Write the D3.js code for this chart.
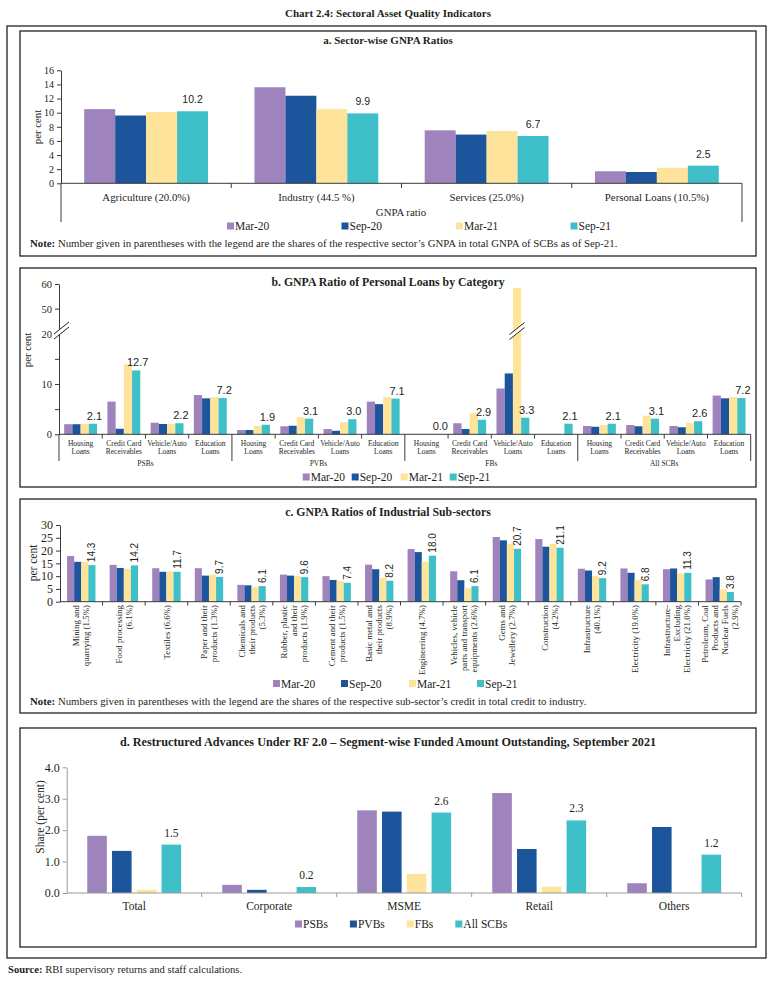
<!DOCTYPE html>
<html>
<head>
<meta charset="utf-8">
<script src="https://cdn.jsdelivr.net/npm/d3@7"></script>
<style>
  body { margin: 0; background: #fff; }
  text { font-family: "Liberation Serif", "DejaVu Serif", serif; fill: #231f20; }
  .num { font-family: "Liberation Sans", Arial, sans-serif; }
  .bold { font-weight: bold; }
</style>
</head>
<body>
<svg id="chart" width="775" height="985"></svg>
<script>
// ---- shared ----
var periods = ['Mar-20', 'Sep-20', 'Mar-21', 'Sep-21'];
var colors = ['#9e83bd', '#1d559d', '#fde49a', '#3fc0c8'];

// ---- a. sector-wise GNPA ----
var sectors = ['Agriculture (20.0%)', 'Industry (44.5 %)', 'Services (25.0%)', 'Personal Loans (10.5%)'];
var sectorMar20 = [10.5, 13.6, 7.5, 1.7];
var sectorSep20 = [9.6, 12.4, 6.9, 1.6];
var sectorMar21 = [10.1, 10.5, 7.4, 2.2];
var sectorSep21 = [10.2, 9.9, 6.7, 2.5];

// ---- b. personal loans by category ----
var bankGroups = ['PSBs', 'PVBs', 'FBs', 'All SCBs'];
var loanTypes = [['Housing', 'Loans'], ['Credit Card', 'Receivables'], ['Vehicle/Auto', 'Loans'], ['Education', 'Loans']];
var loanMar20 = [2.0, 6.5, 2.3, 7.8,  0.85, 1.6, 1.05, 6.5,  0, 2.2, 9.1, 0,   1.65, 1.85, 1.65, 7.7];
var loanSep20 = [2.0, 1.1, 2.05, 7.15, 0.85, 1.7, 0.7, 6.0,  0, 1.05, 12.1, 0, 1.5, 1.6, 1.4, 7.15];
var loanMar21 = [2.1, 13.9, 2.1, 7.4, 1.65, 3.4, 2.4, 7.4,  0, 4.2, 58.4, 0,   1.85, 3.7, 2.25, 7.4];
var loanSep21 = [2.1, 12.7, 2.2, 7.2, 1.9, 3.1, 3.0, 7.1,   0.0, 2.9, 3.3, 2.1, 2.1, 3.1, 2.6, 7.2];

// ---- c. industrial sub-sectors ----
var subSectors = [
  ['Mining and', 'quarrying (1.5%)'],
  ['Food processing', '(6.1%)'],
  ['Textiles (6.6%)'],
  ['Paper and their', 'products (1.3%)'],
  ['Chemicals and', 'their products', '(5.3%)'],
  ['Rubber, plastic', 'and their', 'products (1.9%)'],
  ['Cement  and their', 'products (1.5%)'],
  ['Basic metal and', 'their products', '(8.9%)'],
  ['Engineering (4.7%)'],
  ['Vehicles, vehicle', 'parts and transport', 'equipments (2.6%)'],
  ['Gems and', 'Jewellery (2.7%)'],
  ['Construction', '(4.2%)'],
  ['Infrastructure', '(40.1%)'],
  ['Electricity (19.0%)'],
  ['Infrastructure-', 'Excluding', 'Electricity (21.0%)'],
  ['Petroleum, Coal', 'Products and', 'Nuclear Fuels', '(2.9%)']
];
var subMar20 = [17.9, 14.4, 13.1, 13.1, 6.6, 10.6, 10.0, 14.5, 20.6, 11.9, 25.3, 24.5, 12.9, 13.0, 12.7, 8.7];
var subSep20 = [15.6, 13.2, 11.7, 10.2, 6.4, 10.2, 8.5, 12.7, 19.4, 8.4, 24.0, 21.5, 12.2, 11.3, 13.0, 9.6];
var subMar21 = [15.6, 12.9, 11.8, 10.6, 5.7, 10.0, 8.1, 9.4, 15.7, 5.3, 22.6, 22.6, 10.0, 8.6, 11.0, 4.8];
var subSep21 = [14.3, 14.2, 11.7, 9.7, 6.1, 9.6, 7.4, 8.2, 18.0, 6.1, 20.7, 21.1, 9.2, 6.8, 11.3, 3.8];

// ---- d. restructured advances ----
var segments = ['Total', 'Corporate', 'MSME', 'Retail', 'Others'];
var bankTypes = ['PSBs', 'PVBs', 'FBs', 'All SCBs'];
var rfPSBs = [1.82, 0.26, 2.63, 3.18, 0.31];
var rfPVBs = [1.34, 0.10, 2.59, 1.40, 2.10];
var rfFBs = [0.10, 0.0, 0.61, 0.20, 0.0];
var rfAll = [1.54, 0.19, 2.56, 2.31, 1.22];

var svg = d3.select('#chart');
var ink = '#3a3a3a';

function box(x, y, w, h) {
  svg.append('rect').attr('x', x).attr('y', y).attr('width', w).attr('height', h)
    .attr('fill', 'none').attr('stroke', '#222').attr('stroke-width', 1.3);
}
function heading(txt, y, size) {
  svg.append('text').attr('class', 'bold').attr('x', 388).attr('y', y)
    .attr('text-anchor', 'middle').style('font-size', size + 'px').text(txt);
}
function line(g, x1, y1, x2, y2, col) {
  g.append('line').attr('x1', x1).attr('y1', y1).attr('x2', x2).attr('y2', y2)
    .attr('stroke', col || ink).attr('stroke-width', 1);
}
function legend(g, names, x, y, step) {
  var cx = x;
  names.forEach(function(n, i) {
    g.append('rect').attr('x', cx).attr('y', y - 3.5).attr('width', 7).attr('height', 7).attr('fill', colors[i]);
    var t = g.append('text').attr('x', cx + 8).attr('y', y + 4).style('font-size', '11.5px').text(n);
    cx += step ? step : t.node().getComputedTextLength() + 8 + 22;
  });
}
function bars(g, n, series, xc, x1, y) {
  series.forEach(function(vals, si) {
    g.selectAll(null).data(vals).enter().append('rect')
      .attr('x', function(d, i) { return xc(i) + x1(si); })
      .attr('y', function(d) { return y(d); })
      .attr('width', x1.bandwidth())
      .attr('height', function(d) { return y(0) - y(d); })
      .attr('fill', colors[si]);
  });
}
function styleAxis(a, col) {
  a.select('.domain').attr('stroke', col || ink);
  a.selectAll('.tick line').attr('stroke', col || ink);
  a.selectAll('.tick text').attr('fill', '#231f20');
}
function yTitle(g, txt, x, y, size) {
  g.append('text').attr('transform', 'translate(' + x + ',' + y + ') rotate(-90)')
    .attr('text-anchor', 'middle').style('font-size', size + 'px').text(txt);
}
function note(g, y, txt) {
  var t = g.append('text').attr('x', 30).attr('y', y).style('font-size', '10.8px');
  t.append('tspan').attr('class', 'bold').text('Note: ');
  t.append('tspan').text(txt);
}

// frame + title
svg.append('text').attr('class', 'bold').attr('x', 388).attr('y', 17)
  .attr('text-anchor', 'middle').style('font-size', '11px').text('Chart 2.4: Sectoral Asset Quality Indicators');
box(7, 26, 759, 932);

// ================= panel a =================
box(20, 31, 736, 225);
heading('a. Sector-wise GNPA Ratios', 44, 11);
var ga = svg.append('g');
var xa = d3.scaleBand().domain(d3.range(sectors.length)).range([61, 742]);
var xa1 = d3.scaleBand().domain(d3.range(4)).range([0, xa.bandwidth()]).paddingOuter(0.75);
var ya = d3.scaleLinear().domain([0, 16]).range([183.3, 70.3]);
bars(ga, sectors.length, [sectorMar20, sectorSep20, sectorMar21, sectorSep21], xa, xa1, ya);
var axA = ga.append('g').attr('class', 'num').attr('transform', 'translate(61,0)')
  .call(d3.axisLeft(ya).tickValues(d3.range(0, 17, 2)).tickSize(4).tickSizeOuter(0));
axA.selectAll('text').style('font-size', '10px').attr('font-family', 'Liberation Sans, Arial, sans-serif');
styleAxis(axA);
line(ga, 61, 183.3, 61, 222);
line(ga, 61, 183.3, 742, 183.3);
line(ga, 742, 183.3, 742, 222);
xa.domain().forEach(function(i) { if (i > 0) line(ga, xa(i), 183.3, xa(i), 188); });
ga.selectAll(null).data(sectors).enter().append('text')
  .attr('x', function(d, i) { return xa(i) + xa.bandwidth() / 2; })
  .attr('y', 201).attr('text-anchor', 'middle').style('font-size', '10.8px').text(function(d) { return d; });
ga.selectAll(null).data(sectorSep21).enter().append('text').attr('class', 'num')
  .attr('x', function(d, i) { return xa(i) + xa1(3) + xa1.bandwidth() / 2; })
  .attr('y', function(d) { return ya(d) - 8; })
  .attr('text-anchor', 'middle').style('font-size', '10.5px').text(function(d) { return d.toFixed(1); });
ga.append('text').attr('x', 401).attr('y', 216).attr('text-anchor', 'middle').style('font-size', '10.8px').text('GNPA ratio');
yTitle(ga, 'per cent', 41, 127, 10.8);
legend(ga, periods, 227, 226, 114.5);
note(ga, 246.5, 'Number given in parentheses with the legend are the shares of the respective sector\u2019s GNPA in total GNPA of SCBs as of Sep-21.');

// ================= panel b =================
box(20, 268, 736, 219);
heading('b. GNPA Ratio of Personal Loans by Category', 286, 11.8);
var gb = svg.append('g');
var nb = loanMar20.length;
var xb = d3.scaleBand().domain(d3.range(nb)).range([59, 750.7]);
var xb1 = d3.scaleBand().domain(d3.range(4)).range([0, xb.bandwidth()]).paddingOuter(0.63);
var yb = d3.scaleLinear().domain([0, 20, 45, 60]).range([434.3, 333.7, 321, 284]);
bars(gb, nb, [loanMar20, loanSep20, loanMar21, loanSep21], xb, xb1, yb);
var axB = gb.append('g').attr('class', 'num').attr('transform', 'translate(59,0)')
  .call(d3.axisLeft(yb).tickValues([0, 5, 10, 15, 20, 50, 60]).tickSize(4).tickSizeOuter(0)
    .tickFormat(function(d) { return [0, 10, 20, 50, 60].indexOf(d) >= 0 ? d : ''; }));
axB.selectAll('text').style('font-size', '10.5px');
styleAxis(axB);
line(gb, 59, 434.3, 59, 461);
line(gb, 59, 434.3, 750.7, 434.3);
line(gb, 750.7, 434.3, 750.7, 461);
d3.range(1, nb).forEach(function(i) {
  line(gb, xb(i), 434.3, xb(i), i % 4 === 0 ? 461 : 438.5);
});
// break marks
function breakMark(g, cx, cy, hw) {
  var dy = hw * 0.8;
  g.append('path').attr('d', 'M' + (cx - hw) + ',' + (cy + dy + 2.5) + 'L' + (cx + hw) + ',' + (cy - dy + 2.5) +
    'L' + (cx + hw) + ',' + (cy - dy - 2.5) + 'L' + (cx - hw) + ',' + (cy + dy - 2.5) + 'Z').attr('fill', '#fff');
  line(g, cx - hw, cy + dy + 2.5, cx + hw, cy - dy + 2.5, '#222');
  line(g, cx - hw, cy + dy - 2.5, cx + hw, cy - dy - 2.5, '#222');
}
breakMark(gb, 61.5, 330.5, 7.5);
loanMar21.forEach(function(v, i) {
  if (v > 20) breakMark(gb, xb(i) + xb1(2) + xb1.bandwidth() / 2, 331, 7.5);
});
gb.selectAll(null).data(d3.range(nb)).enter().append('text')
  .attr('x', function(i) { return xb(i) + xb.bandwidth() / 2; })
  .attr('y', 445.5).attr('text-anchor', 'middle').style('font-size', '7.5px')
  .each(function(i) {
    var lines = loanTypes[i % 4];
    d3.select(this).selectAll('tspan').data(lines).enter().append('tspan')
      .attr('x', xb(i) + xb.bandwidth() / 2).attr('dy', function(d, k) { return k ? 8 : 0; })
      .text(function(d) { return d; });
  });
gb.selectAll(null).data(bankGroups).enter().append('text')
  .attr('x', function(d, k) { return xb(k * 4) + xb.bandwidth() * 2; })
  .attr('y', 466).attr('text-anchor', 'middle').style('font-size', '7.5px').text(function(d) { return d; });
gb.selectAll(null).data(loanSep21).enter().append('text').attr('class', 'num')
  .attr('x', function(d, i) { return xb(i) + xb1(3) + xb1.bandwidth() / 2 + 1.5; })
  .attr('y', function(d) { return yb(d) - 4; })
  .attr('text-anchor', 'middle').style('font-size', '11px').text(function(d) { return d.toFixed(1); });
yTitle(gb, 'per cent', 31, 350, 10.8);
legend(gb, periods, 302.7, 477, 49);

// ================= panel c =================
box(20, 499, 736, 214);
heading('c. GNPA Ratios of Industrial Sub-sectors', 516, 11.8);
var gc = svg.append('g');
var nc = subSectors.length;
var xc = d3.scaleBand().domain(d3.range(nc)).range([60, 741]);
var xc1 = d3.scaleBand().domain(d3.range(4)).range([0, xc.bandwidth()]).paddingOuter(1);
var yc = d3.scaleLinear().domain([0, 30]).range([601.7, 525]);
bars(gc, nc, [subMar20, subSep20, subMar21, subSep21], xc, xc1, yc);
var axC = gc.append('g').attr('class', 'num').attr('transform', 'translate(60,0)')
  .call(d3.axisLeft(yc).tickValues(d3.range(0, 31, 5)).tickSize(4).tickSizeOuter(0));
axC.selectAll('text').style('font-size', '12px');
styleAxis(axC);
line(gc, 60, 601.7, 741, 601.7);
d3.range(1, nc + 1).forEach(function(i) {
  var x = i < nc ? xc(i) : 741;
  line(gc, x, 601.7, x, 605.5);
});
subSectors.forEach(function(lines, i) {
  var cx = xc(i) + xc.bandwidth() / 2;
  lines.forEach(function(s, k) {
    var lx = cx + (k - (lines.length - 1) / 2) * 10;
    gc.append('text').attr('transform', 'translate(' + lx + ',605) rotate(-90)')
      .attr('dy', '0.35em').attr('text-anchor', 'end').style('font-size', '8.9px').text(s);
  });
});
gc.selectAll(null).data(subSep21).enter().append('text').attr('class', 'num')
  .attr('transform', function(d, i) {
    return 'translate(' + (xc(i) + xc1(3) + xc1.bandwidth() / 2) + ',' + (yc(d) - 3) + ') rotate(-90)';
  })
  .attr('dy', '0.35em').attr('text-anchor', 'start').style('font-size', '10px').text(function(d) { return d.toFixed(1); });
yTitle(gc, 'per cent', 37, 563, 11.5);
legend(gc, periods, 273, 683.5, 68);
note(gc, 704.5, 'Numbers given in parentheses with the legend are the shares of the respective sub-sector\u2019s credit in total credit to industry.');

// ================= panel d =================
box(20, 728, 736, 219);
heading('d. Restructured Advances Under RF 2.0 \u2013 Segment-wise Funded Amount Outstanding, September 2021', 746, 12.2);
var gd = svg.append('g');
var grey = '#9a9a9a';
var xd = d3.scaleBand().domain(d3.range(segments.length)).range([66.7, 741.7]);
var xd1 = d3.scaleBand().domain(d3.range(4)).range([0, xd.bandwidth()]).paddingInner(0.21).paddingOuter(0.83);
var yd = d3.scaleLinear().domain([0, 4]).range([893, 767.3]);
bars(gd, segments.length, [rfPSBs, rfPVBs, rfFBs, rfAll], xd, xd1, yd);
var axD = gd.append('g').attr('transform', 'translate(66.7,0)')
  .call(d3.axisLeft(yd).tickValues(d3.range(0, 5)).tickSize(4).tickSizeOuter(0).tickFormat(d3.format('.1f')));
axD.selectAll('text').style('font-size', '12px').attr('font-family', 'Liberation Serif, serif');
styleAxis(axD, grey);
line(gd, 66.7, 893, 741.7, 893, grey);
d3.range(1, segments.length + 1).forEach(function(i) {
  var x = i < segments.length ? xd(i) : 741.7;
  line(gd, x, 893, x, 897, grey);
});
gd.selectAll(null).data(segments).enter().append('text')
  .attr('x', function(d, i) { return xd(i) + xd.bandwidth() / 2; })
  .attr('y', 910).attr('text-anchor', 'middle').style('font-size', '11.5px').text(function(d) { return d; });
gd.selectAll(null).data(rfAll).enter().append('text')
  .attr('x', function(d, i) { return xd(i) + xd1(3) + xd1.bandwidth() / 2; })
  .attr('y', function(d) { return yd(d) - 8; })
  .attr('text-anchor', 'middle').style('font-size', '11.5px').text(function(d) { return d.toFixed(1); });
yTitle(gd, 'Share (per cent)', 44, 817, 11.5);
legend(gd, bankTypes, 295, 924);

// source
var src = svg.append('text').attr('x', 8).attr('y', 973).style('font-size', '10.6px');
src.append('tspan').attr('class', 'bold').text('Source: ');
src.append('tspan').text('RBI supervisory returns and staff calculations.');
</script>
</body>
</html>
